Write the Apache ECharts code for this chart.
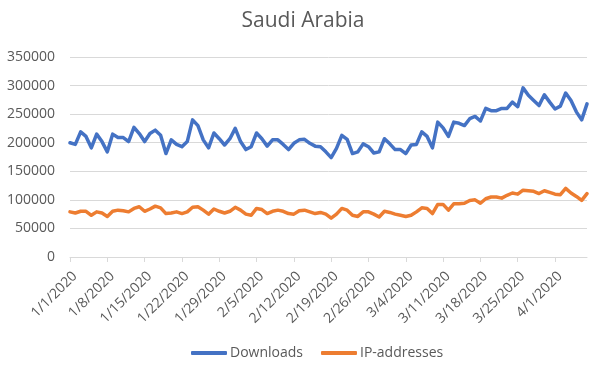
<!DOCTYPE html>
<html>
<head>
<meta charset="utf-8">
<script src="https://cdn.jsdelivr.net/npm/echarts@6/dist/echarts.min.js"></script>
<style>
html,body{margin:0;padding:0;background:#fff;}
#chart{width:606px;height:372px;}
</style>
</head>
<body>
<div id="chart"></div>
<script>
var title = "Saudi Arabia";
var seriesNames = ["Downloads", "IP-addresses"];
var startDate = [2020, 1, 1];
var dayCount = 98;
var categories = [];
(function(){
  var d = new Date(Date.UTC(startDate[0], startDate[1]-1, startDate[2]));
  for (var i = 0; i < dayCount; i++) {
    categories.push((d.getUTCMonth()+1) + "/" + d.getUTCDate() + "/" + d.getUTCFullYear());
    d.setUTCDate(d.getUTCDate()+1);
  }
})();

var downloads = [
  200000,197000,219000,211000,191000,215000,202000,184000,215000,209000,
  209000,202000,227000,216000,202000,216000,222000,213000,181000,205000,
  197000,193000,202000,240000,230000,205000,191000,217000,207000,196000,
  207000,225000,202000,188000,193000,217000,207000,194000,205000,205000,
  197000,188000,199000,205000,206000,199000,194000,193000,184000,174000,
  190000,213000,206000,181000,184000,198000,193000,182000,184000,207000,
  198000,188000,188000,181000,196000,197000,219000,211000,191000,236000,
  226000,211000,236000,234000,230000,242000,246000,238000,260000,256000,
  256000,260000,260000,271000,263000,296000,283000,274000,265000,284000,
  271000,259000,264000,287000,274000,254000,240000,268000
];
var ipAddresses = [
  79000,77000,80000,80000,73000,79000,77000,71000,80000,82000,
  81000,79000,85000,88000,80000,84000,89000,86000,76000,77000,
  79000,76000,79000,87000,88000,82000,75000,84000,80000,77000,
  80000,87000,82000,75000,73000,85000,83000,76000,80000,82000,
  80000,76000,75000,81000,82000,79000,76000,78000,75000,68000,
  75000,85000,82000,73000,71000,79000,79000,75000,70000,80000,
  78000,75000,73000,71000,73000,79000,86000,85000,76000,92000,
  92000,82000,93000,93000,94000,99000,100000,94000,102000,105000,
  105000,103000,108000,112000,110000,117000,116000,115000,111000,116000,
  113000,110000,109000,120000,112000,106000,99000,111000
];
var yTicks = [0, 50000, 100000, 150000, 200000, 250000, 300000, 350000];

var font = "'Open Sans', 'Noto Sans', sans-serif";
var chart = echarts.init(document.getElementById('chart'), null, {renderer: 'canvas'});
chart.setOption({
  animation: false,
  backgroundColor: '#fff',
  color: ['#4472C4', '#ED7D31'],
  title: {
    text: title, left: 'center', top: 6,
    textStyle: {fontFamily: font, fontSize: 21, fontWeight: 'normal', color: '#595959'}
  },
  legend: {
    bottom: 7, left: 186,
    data: seriesNames,
    icon: 'roundRect', itemWidth: 36, itemHeight: 4, itemGap: 18,
    textStyle: {fontFamily: font, fontSize: 14, color: '#595959', padding: [0,0,0,-2]}
  },
  grid: {left: 70, right: 19, top: 57, bottom: 115, containLabel: false},
  xAxis: {
    type: 'category', data: categories, boundaryGap: false,
    axisLine: {lineStyle: {color: '#D9D9D9', width: 1}},
    axisTick: {show: true, interval: 6, length: 5, lineStyle: {color: '#D9D9D9'}},
    axisLabel: {interval: 6, rotate: 45, margin: 12, verticalAlign: 'top', align: 'right',
      fontFamily: font, fontSize: 14, color: '#595959'},
    splitLine: {show: false}
  },
  yAxis: {
    type: 'value', min: yTicks[0], max: yTicks[yTicks.length-1], interval: yTicks[1]-yTicks[0],
    axisLine: {show: false}, axisTick: {show: false},
    axisLabel: {margin: 15, fontFamily: font, fontSize: 14, color: '#595959',
      formatter: function(v){ return String(v); }},
    splitLine: {lineStyle: {color: '#D9D9D9', width: 1}}
  },
  series: [
    {name: seriesNames[0], type: 'line', data: downloads, showSymbol: false, symbol: 'none',
     lineStyle: {width: 3.5, color: '#4472C4', cap: 'round', join: 'round'}},
    {name: seriesNames[1], type: 'line', data: ipAddresses, showSymbol: false, symbol: 'none',
     lineStyle: {width: 3.5, color: '#ED7D31', cap: 'round', join: 'round'}}
  ]
});
</script>
</body>
</html>
